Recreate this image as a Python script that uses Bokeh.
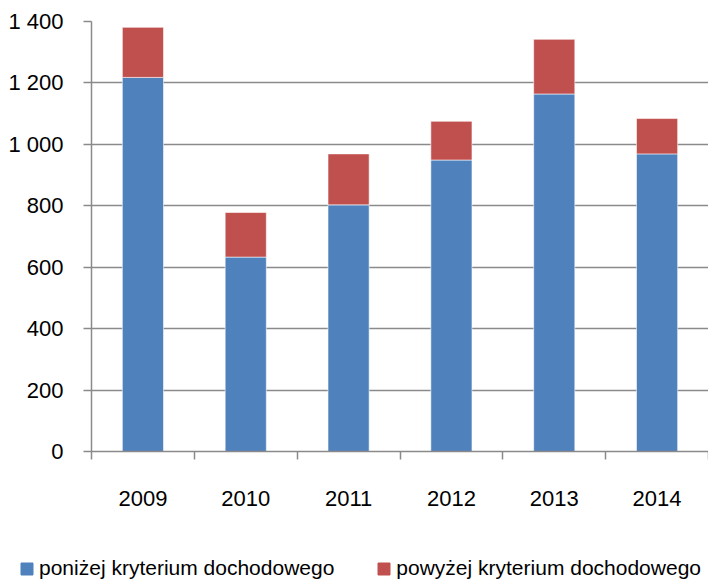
from bokeh.plotting import figure
from bokeh.layouts import column, row
from bokeh.models import ColumnDataSource, FixedTicker, Legend, LegendItem, Range1d
from bokeh.embed import file_html
from bokeh.resources import INLINE

years = [2009, 2010, 2011, 2012, 2013, 2014]
below = [1218, 633, 803, 949, 1164, 969]
above = [163, 145, 166, 126, 178, 115]
y_ticks = [0, 200, 400, 600, 800, 1000, 1200, 1400]
y_labels = ["0", "200", "400", "600", "800", "1 000", "1 200", "1 400"]
series = ["poniżej kryterium dochodowego", "powyżej kryterium dochodowego"]
colors = ["#4F81BD", "#C0504D"]

FONT = "Liberation Sans"
FS = "22px"
GRAY = "#8a8a8a"
W = 708

src = ColumnDataSource(dict(x=years, below=below, above=above))

p = figure(width=W, height=521, output_backend="svg", toolbar_location=None,
           x_range=Range1d(years[0] - 0.5, years[-1] + 0.5),
           y_range=Range1d(0, 1400),
           min_border_left=91, min_border_top=21, min_border_bottom=70,
           min_border_right=0)
p.outline_line_color = None

rs = p.vbar_stack(["below", "above"], x="x", width=0.4, source=src, color=colors,
                  line_color="white", line_width=0.8, line_alpha=0.7)

# y axis
p.yaxis.ticker = FixedTicker(ticks=y_ticks)
p.yaxis.major_label_overrides = {t: l for t, l in zip(y_ticks, y_labels)}
p.yaxis.axis_line_color = GRAY
p.yaxis.axis_line_width = 1.5
p.yaxis.major_tick_line_color = GRAY
p.yaxis.major_tick_line_width = 1.5
p.yaxis.major_tick_out = 8
p.yaxis.major_tick_in = 0
p.yaxis.minor_tick_line_color = None
p.yaxis.major_label_standoff = 20
p.yaxis.major_label_text_font = FONT
p.yaxis.major_label_text_font_size = FS
p.yaxis.major_label_text_color = "black"

# x axis: labels at year centers, ticks at category boundaries
bounds = [years[0] - 0.5] + [y + 0.5 for y in years]
p.xaxis.ticker = FixedTicker(ticks=years, minor_ticks=bounds)
p.xaxis.axis_line_color = GRAY
p.xaxis.axis_line_width = 1.5
p.xaxis.major_tick_line_color = None
p.xaxis.major_tick_out = 0
p.xaxis.major_tick_in = 0
p.xaxis.minor_tick_line_color = GRAY
p.xaxis.minor_tick_line_width = 1.5
p.xaxis.minor_tick_out = 8
p.xaxis.minor_tick_in = 0
p.xaxis.major_label_standoff = 31
p.xaxis.major_label_text_font = FONT
p.xaxis.major_label_text_font_size = FS
p.xaxis.major_label_text_color = "black"

p.xgrid.grid_line_color = None
p.ygrid.ticker = FixedTicker(ticks=y_ticks)
p.ygrid.grid_line_color = GRAY
p.ygrid.grid_line_width = 1.5

# legend strip (separate axis-less figure so the legend can span the full width);
# its bars use the same data but lie outside its visible range
p2 = figure(width=W, height=59, output_backend="svg", toolbar_location=None,
            x_range=Range1d(0, 1), y_range=Range1d(-2, -1),
            x_axis_location=None, y_axis_location=None,
            min_border=0, min_border_left=0, min_border_right=0,
            min_border_top=0, min_border_bottom=0)
p2.outline_line_color = None
p2.grid.visible = False
key_renderers = p2.vbar_stack(["below", "above"], x="x", width=0.4, source=src,
                              color=colors)

legend = Legend(items=[LegendItem(label=s, renderers=[r]) for s, r in zip(series, key_renderers)],
                orientation="horizontal", location=(19, 0),
                border_line_color=None, background_fill_alpha=0,
                padding=0, margin=0, spacing=42, label_standoff=5,
                glyph_width=15, glyph_height=15,
                label_text_font=FONT, label_text_font_size="21px",
                label_text_color="black")
p2.add_layout(legend, "center")

open("out.html", "w").write(file_html(column(p, row(p2), spacing=0), INLINE))
